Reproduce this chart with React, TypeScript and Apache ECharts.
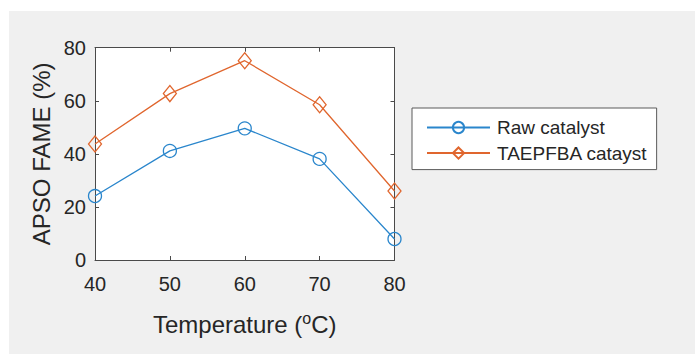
import React, { useEffect, useRef } from "react";
import * as echarts from "echarts";

const temperatures = [40, 50, 60, 70, 80];
const rawCatalyst = [24.1, 41.1, 49.6, 38.1, 7.9];
const taepfbaCatalyst = [43.7, 62.7, 75.1, 58.5, 26.0];
const seriesNames = ["Raw catalyst", "TAEPFBA catayst"];
const xTicks = [40, 50, 60, 70, 80];
const yTicks = [0, 20, 40, 60, 80];

const FONT = "'Liberation Sans', Arial, Helvetica, sans-serif";
const AXIS_COLOR = "#4a4a4a";
const TEXT_COLOR = "#262626";
const BLUE = "#2a86cc";
const ORANGE = "#e0662e";

export default function App() {
  const ref = useRef<HTMLDivElement>(null);
  useEffect(() => {
    if (!ref.current) return;
    const chart = echarts.init(ref.current, null, { renderer: "svg" });
    const axisCommon = {
      type: "value" as const,
      axisLine: { show: true, onZero: false, lineStyle: { color: AXIS_COLOR, width: 1 } },
      axisTick: { show: true, inside: true, length: 4, lineStyle: { color: AXIS_COLOR } },
      splitLine: { show: false },
    };
    const option = {
      animation: false,
      backgroundColor: "#f0f0f0",
      textStyle: { fontFamily: FONT },
      graphic: {
        elements: [
          { type: "rect", shape: { x: 0, y: 0, width: 695, height: 11 }, style: { fill: "#ffffff" }, silent: true },
          { type: "rect", shape: { x: 0, y: 0, width: 9, height: 354 }, style: { fill: "#ffffff" }, silent: true },
        ],
      },
      grid: {
        left: 95,
        right: 300.5,
        top: 47.7,
        bottom: 94,
        show: true,
        backgroundColor: "#ffffff",
        borderWidth: 0,
      },
      legend: {
        left: 412,
        top: 108,
        orient: "vertical",
        backgroundColor: "#ffffff",
        borderColor: "#5a5a5a",
        borderWidth: 1,
        padding: [10, 9, 7, 14],
        itemWidth: 63,
        itemHeight: 14,
        itemGap: 6.6,
        textStyle: { fontSize: 19, color: TEXT_COLOR, fontFamily: FONT, lineHeight: 19, padding: [0, 0, 0, 2] },
        data: seriesNames,
      },
      xAxis: [
        {
          ...axisCommon,
          position: "bottom",
          min: 40,
          max: 80,
          interval: 10,
          axisLabel: {
            fontSize: 20,
            color: TEXT_COLOR,
            margin: 14,
            fontFamily: FONT,
            formatter: (v: number) => (xTicks.includes(v) ? String(v) : ""),
          },
          name: "Temperature ({sup|o}C)",
          nameLocation: "middle",
          nameGap: 50,
          nameTextStyle: {
            fontSize: 24,
            color: TEXT_COLOR,
            fontFamily: FONT,
            rich: {
              sup: { fontSize: 16, color: TEXT_COLOR, fontFamily: FONT, padding: [0, 0, 12, 0] },
            },
          },
        },
        {
          ...axisCommon,
          position: "top",
          min: 40,
          max: 80,
          interval: 10,
          axisLabel: { show: false },
        },
      ],
      yAxis: [
        {
          ...axisCommon,
          position: "left",
          min: 0,
          max: 80,
          interval: 20,
          axisLabel: {
            fontSize: 20,
            color: TEXT_COLOR,
            margin: 9,
            fontFamily: FONT,
            formatter: (v: number) => (yTicks.includes(v) ? String(v) : ""),
          },
          name: "APSO FAME (%)",
          nameLocation: "middle",
          nameRotate: 90,
          nameGap: 42,
          nameTextStyle: { fontSize: 24, color: TEXT_COLOR, fontFamily: FONT },
        },
        {
          ...axisCommon,
          position: "right",
          min: 0,
          max: 80,
          interval: 20,
          axisLabel: { show: false },
        },
      ],
      series: [
        {
          name: seriesNames[0],
          type: "line",
          xAxisIndex: 0,
          yAxisIndex: 0,
          data: temperatures.map((t, i) => [t, rawCatalyst[i]]),
          symbol: "circle",
          symbolSize: 13,
          lineStyle: { color: BLUE, width: 1.3 },
          itemStyle: { color: "rgba(255,255,255,0)", borderColor: BLUE, borderWidth: 1.3 },
        },
        {
          name: seriesNames[1],
          type: "line",
          xAxisIndex: 0,
          yAxisIndex: 0,
          data: temperatures.map((t, i) => [t, taepfbaCatalyst[i]]),
          symbol: "diamond",
          symbolSize: [13, 16],
          lineStyle: { color: ORANGE, width: 1.3 },
          itemStyle: { color: "rgba(255,255,255,0)", borderColor: ORANGE, borderWidth: 1.3 },
        },
      ],
    };
    chart.setOption(option as any);
    return () => chart.dispose();
  }, []);
  return (
    <div
      ref={ref}
      style={{ position: "fixed", left: 0, top: 0, width: 695, height: 354 }}
    />
  );
}
